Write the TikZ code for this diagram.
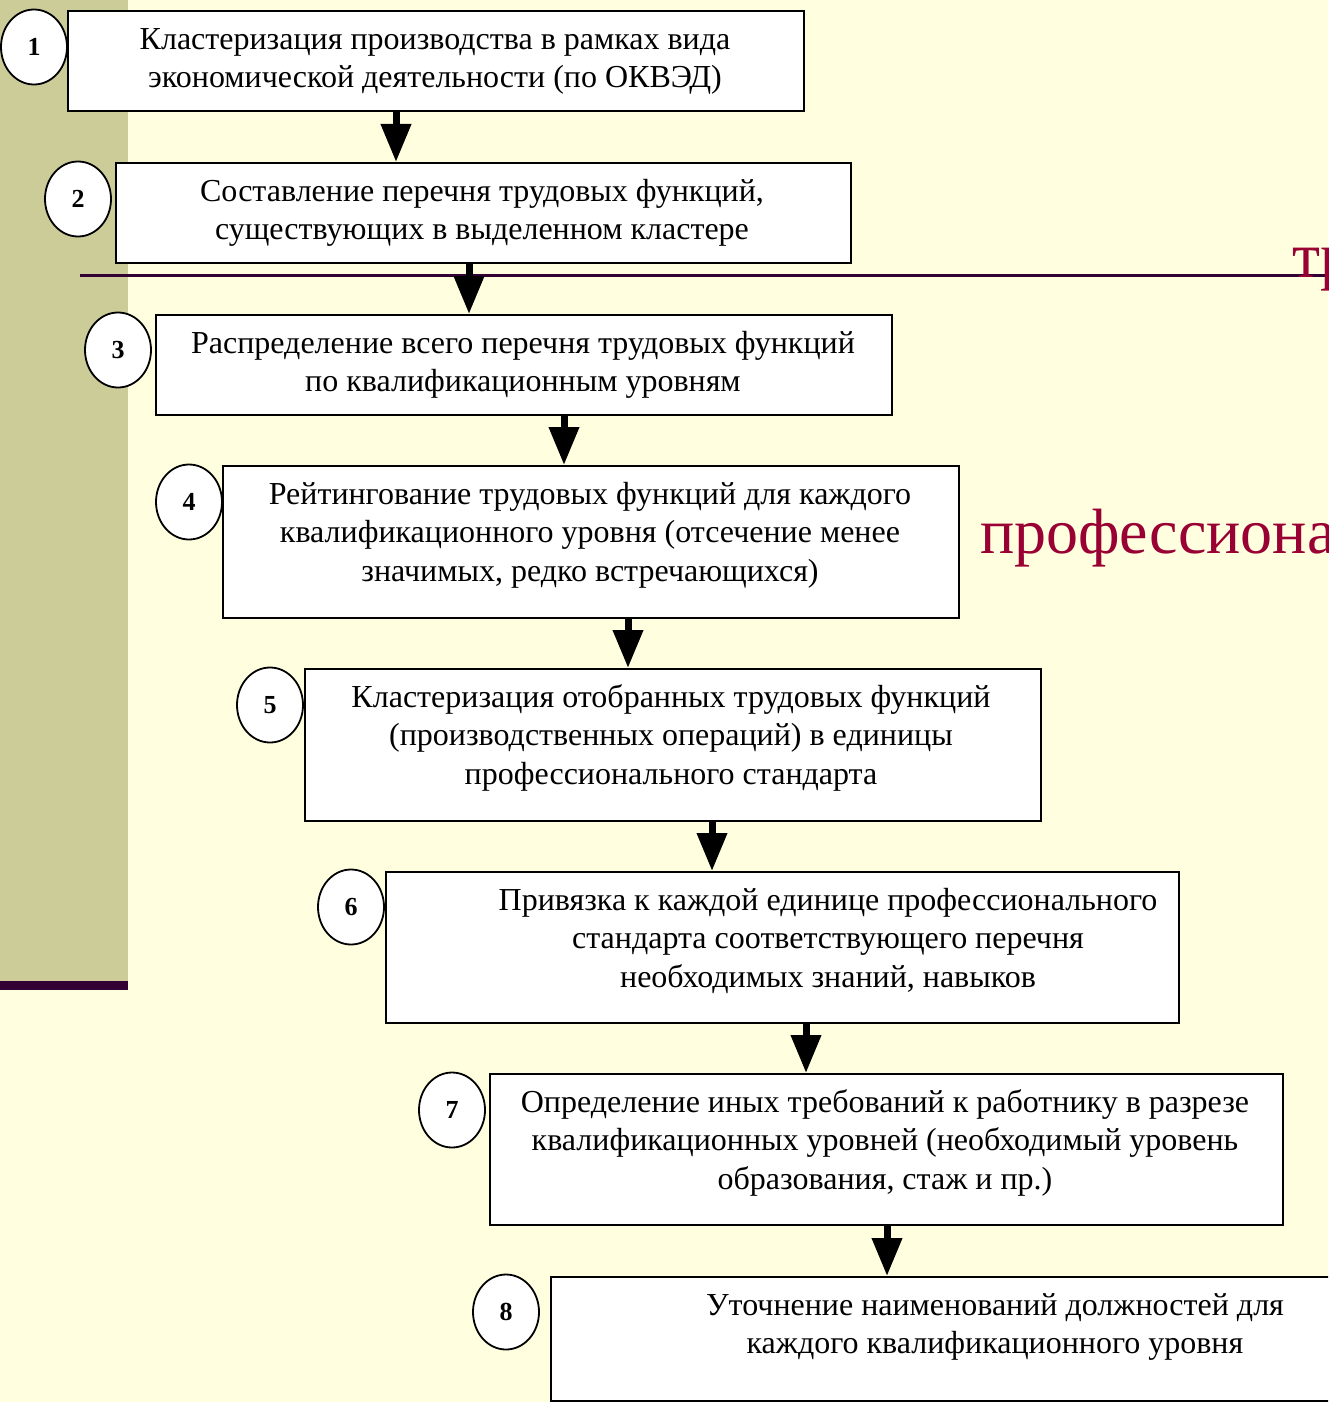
\documentclass[tikz,border=0pt]{standalone}
\usepackage{fontspec}
\setmainfont{Liberation Serif}
\usetikzlibrary{arrows.meta,shapes.geometric}
\definecolor{bgyellow}{RGB}{255,255,224}
\definecolor{sidebar}{RGB}{204,204,153}
\definecolor{darkpurple}{RGB}{51,0,51}
\definecolor{crimson}{RGB}{153,0,51}
\begin{document}
\begin{tikzpicture}[x=1pt,y=-1pt,
  box/.style={draw=black, line width=1.8pt, fill=white, rectangle, inner sep=0pt, anchor=north west},
  txt/.style={align=center, inner sep=0pt, anchor=north, font=\fontsize{32}{38.5}\selectfont},
  num/.style={draw=black, line width=1.8pt, fill=white, ellipse, inner sep=0pt, minimum width=66pt, minimum height=75pt, font=\fontsize{26}{28}\selectfont\bfseries},
  arr/.style={line width=7pt, -{Triangle[width=29pt,length=38pt]}},
  title/.style={text=crimson, inner sep=0pt, anchor=base west, font=\fontsize{64}{70}\selectfont}]
\useasboundingbox (0,0) rectangle (1328,1402);
\begin{scope}
\clip (0,0) rectangle (1328,1402);
\fill[bgyellow] (0,0) rectangle (1328,1402);
\fill[sidebar] (0,0) rectangle (128,982);
\fill[darkpurple] (0,981) rectangle (128,990);
\draw[darkpurple, line width=3pt] (80,275) -- (1328,275);
\node[title] (tt1) at (1292,277) {тр};
\node[title] (tt2) at (980,553) {профессиона};

% boxes
\node[box, minimum width=736pt, minimum height=100pt] (b1) at (67,10) {};
\node[box, minimum width=735pt, minimum height=100pt] (b2) at (115,162) {};
\node[box, minimum width=736pt, minimum height=100pt] (b3) at (155,314) {};
\node[box, minimum width=736pt, minimum height=152pt] (b4) at (222,465) {};
\node[box, minimum width=736pt, minimum height=152pt] (b5) at (304,668) {};
\node[box, minimum width=793pt, minimum height=151pt] (b6) at (385,871) {};
\node[box, minimum width=793pt, minimum height=151pt] (b7) at (489,1073) {};
\node[box, minimum width=800pt, minimum height=124pt] (b8) at (550,1276) {};

% texts
\node[txt] (t1) at (435,22) {\strut Кластеризация производства в рамках вида\\экономической деятельности (по ОКВЭД)};
\node[txt] (t2) at (482,174) {\strut Составление перечня трудовых функций,\\существующих в выделенном кластере};
\node[txt] (t3) at (523,326) {\strut Распределение всего перечня трудовых функций\\по квалификационным уровням};
\node[txt] (t4) at (590,477) {\strut Рейтингование трудовых функций для каждого\\квалификационного уровня (отсечение менее\\значимых, редко встречающихся)};
\node[txt] (t5) at (671,680) {\strut Кластеризация отобранных трудовых функций\\(производственных операций) в единицы\\профессионального стандарта};
\node[txt] (t6) at (828,883) {\strut Привязка к каждой единице профессионального\\стандарта соответствующего перечня\\необходимых знаний, навыков};
\node[txt] (t7) at (885,1085) {\strut Определение иных требований к работнику в разрезе\\квалификационных уровней (необходимый уровень\\образования, стаж и пр.)};
\node[txt] (t8) at (995,1288) {\strut Уточнение наименований должностей для\\каждого квалификационного уровня};

% arrows
\coordinate (x1) at (396,0);
\coordinate (x2) at (469,0);
\coordinate (x3) at (564,0);
\coordinate (x4) at (628,0);
\coordinate (x5) at (712,0);
\coordinate (x6) at (806,0);
\coordinate (x7) at (887,0);
\draw[arr] (x1 |- b1.south) -- (x1 |- b2.north);
\draw[arr] (x2 |- b2.south) -- (x2 |- b3.north);
\draw[arr] (x3 |- b3.south) -- (x3 |- b4.north);
\draw[arr] (x4 |- b4.south) -- (x4 |- b5.north);
\draw[arr] (x5 |- b5.south) -- (x5 |- b6.north);
\draw[arr] (x6 |- b6.south) -- (x6 |- b7.north);
\draw[arr] (x7 |- b7.south) -- (x7 |- b8.north);

% number circles
\node[num] (n1) at (34,47) {1};
\node[num] (n2) at (78,199) {2};
\node[num] (n3) at (118,350) {3};
\node[num] (n4) at (189,502) {4};
\node[num] (n5) at (270,705) {5};
\node[num] (n6) at (351,907) {6};
\node[num] (n7) at (452,1110) {7};
\node[num] (n8) at (506,1312) {8};
\end{scope}
\end{tikzpicture}
\end{document}
